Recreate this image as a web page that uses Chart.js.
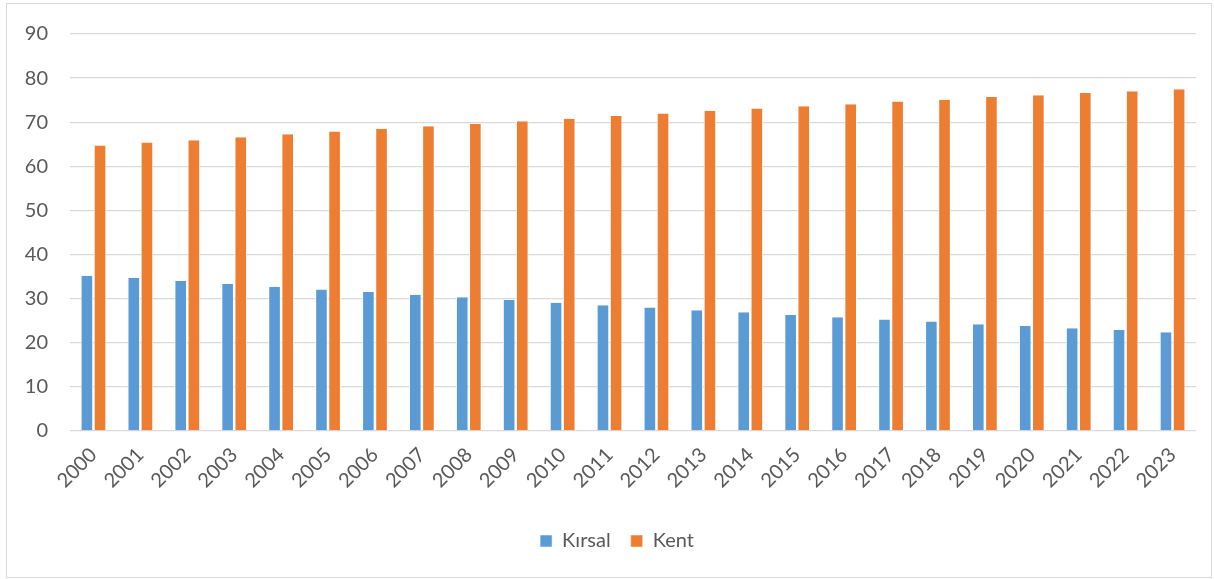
<!DOCTYPE html>
<html>
<head>
<meta charset="utf-8">
<script src="https://cdn.jsdelivr.net/npm/chart.js@4"></script>
<style>
  body { margin: 0; background: #fff; }
  #frame { position: absolute; left: 6px; top: 3px; width: 1204px; height: 573px; border: 1px solid #d9d9d9; }
  #chart { position: absolute; left: 0; top: 0; }
</style>
</head>
<body>
<div id="frame"></div>
<canvas id="chart" width="1214" height="579"></canvas>
<script>
const years = ['2000','2001','2002','2003','2004','2005','2006','2007','2008','2009','2010','2011',
               '2012','2013','2014','2015','2016','2017','2018','2019','2020','2021','2022','2023'];
const kirsal = [35.2, 34.7, 34.0, 33.3, 32.7, 32.1, 31.5, 30.9, 30.3, 29.7, 29.1, 28.5,
                28.0, 27.4, 26.9, 26.3, 25.8, 25.3, 24.8, 24.2, 23.8, 23.3, 22.9, 22.4];
const kent = [64.7, 65.4, 65.9, 66.6, 67.3, 67.9, 68.5, 69.1, 69.6, 70.2, 70.8, 71.4,
              72.0, 72.6, 73.1, 73.6, 74.1, 74.7, 75.1, 75.7, 76.1, 76.6, 77.0, 77.5];
const yTicks = [0, 10, 20, 30, 40, 50, 60, 70, 80, 90];

const font = { family: 'Lato, "Open Sans", sans-serif', size: 20 };

// nudge the legend a little to the right, like the original
const legendShift = {
    id: 'legendShift',
    afterLayout(chart) {
        chart.legend.left += 19;
        chart.legend.right += 19;
    }
};

let ctx = document.getElementById('chart').getContext('2d');
let barChart = new Chart(ctx, {
    type: 'bar',
    data: {
        labels: years,
        datasets: [{
            label: 'Kırsal',
            data: kirsal,
            backgroundColor: '#5b9bd5',
            borderColor: '#ffffff',
            borderWidth: { left: 1, right: 1 },
            borderSkipped: false
        },
        {
            label: 'Kent',
            data: kent,
            backgroundColor: '#ed7d31',
            borderColor: '#ffffff',
            borderWidth: { left: 1, right: 1 },
            borderSkipped: false
        }]
    },
    options: {
        responsive: false,
        animation: false,
        layout: { padding: { left: 0, right: 18, top: 32, bottom: 18 } },
        datasets: { bar: { categoryPercentage: 0.56, barPercentage: 0.96 } },
        scales: {
            x: {
                grid: { display: false },
                border: { display: false },
                ticks: { color: '#595959', font: font, minRotation: 45, maxRotation: 45, padding: 4 },
                afterFit: (scale) => { scale.height = 80; }
            },
            y: {
                min: 0,
                max: 90,
                afterBuildTicks: (scale) => { scale.ticks = yTicks.map(v => ({ value: v })); },
                grid: { color: '#d9d9d9', lineWidth: 1.3, drawTicks: false },
                border: { display: false },
                ticks: { color: '#595959', font: font, padding: 22 },
                afterFit: (scale) => { scale.width = 70; }
            }
        },
        plugins: {
            legend: {
                position: 'bottom',
                labels: { color: '#595959', font: font, boxWidth: 12, boxHeight: 12, padding: 20 }
            },
            tooltip: { enabled: false }
        }
    },
    plugins: [legendShift]
});
</script>
</body>
</html>
